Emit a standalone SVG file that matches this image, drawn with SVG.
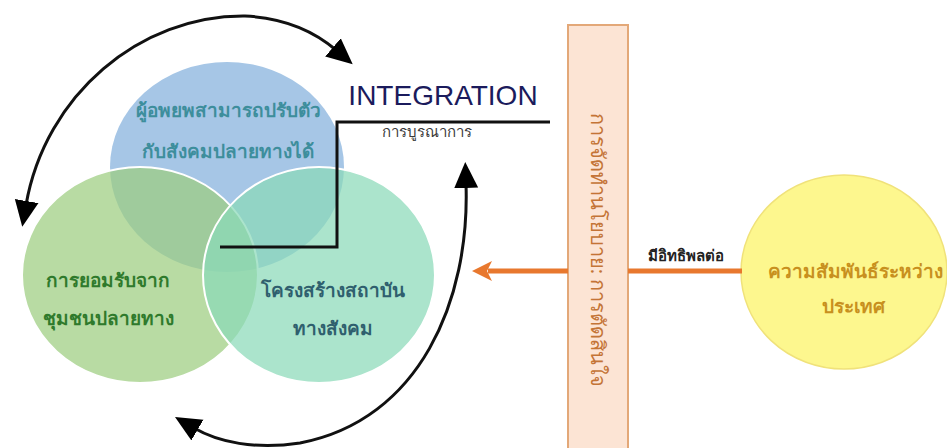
<svg xmlns="http://www.w3.org/2000/svg" width="947" height="448" viewBox="0 0 947 448">
<defs>
<style>
.th{font-family:"Noto Sans","DejaVu Sans","Liberation Sans",sans-serif;font-weight:bold;text-anchor:middle}
.arc{fill:none;stroke:#111;stroke-width:3}
.orange{stroke:#e8782e;stroke-width:5;fill:none}
</style>
<marker id="ah" markerUnits="userSpaceOnUse" markerWidth="26" markerHeight="26" viewBox="0 0 26 26" refX="4" refY="13" orient="auto-start-reverse">
<path d="M0,1 L26,13 L0,25 Z" fill="#000"/>
</marker>
<marker id="oh" markerUnits="userSpaceOnUse" markerWidth="20" markerHeight="22" viewBox="0 0 20 22" refX="4" refY="11" orient="auto">
<path d="M0,1 L20,11 L0,21 L5,11 Z" fill="#e8782e"/>
</marker>
</defs>
<rect width="947" height="448" fill="#fff"/>

<g id="circle-adapt">
<ellipse cx="227" cy="167" rx="117" ry="105" fill="#a6c6e6"/>
<text class="th" x="228" y="117" font-size="19" fill="#3d8e9c">ผู้อพยพสามารถปรับตัว</text>
<text class="th" x="228" y="158" font-size="19" fill="#3d8e9c">กับสังคมปลายทางได้</text>
</g>
<g id="circle-accept">
<ellipse cx="140" cy="275" rx="118" ry="108" fill="#9ccd80" fill-opacity="0.72" stroke="#fff" stroke-width="2"/>
</g>
<g id="circle-structure">
<ellipse cx="319" cy="275" rx="116" ry="108" fill="#8ad9b8" fill-opacity="0.72" stroke="#fff" stroke-width="2"/>
</g>
<g id="labels-lower">
<text class="th" x="108" y="287" font-size="19" fill="#2f7a2c">การยอมรับจาก</text>
<text class="th" x="108" y="325" font-size="19" fill="#2f7a2c">ชุมชนปลายทาง</text>
<text class="th" x="333" y="297" font-size="19" fill="#2f5f6e">โครงสร้างสถาบัน</text>
<text class="th" x="333" y="335" font-size="19" fill="#2f5f6e">ทางสังคม</text>
</g>

<g id="integration">
<text x="443" y="105" font-family="'Liberation Sans',Arial,sans-serif" font-size="28" fill="#1b1b5c" text-anchor="middle">INTEGRATION</text>
<text x="427" y="137" font-family="'Noto Sans','DejaVu Sans',sans-serif" font-size="15" fill="#3a3a3a" text-anchor="middle">การบูรณาการ</text>
</g>

<g id="policy">
<rect x="568" y="25" width="60" height="430" fill="#fce4d4" stroke="#e3a878" stroke-width="2"/>
<text transform="translate(591,250) rotate(90)" font-family="'Noto Sans','DejaVu Sans',sans-serif" font-size="20" fill="#c47436" text-anchor="middle">การจัดทำนโยบาย: การตัดสินใจ</text>
</g>

<g id="relations">
<ellipse cx="844" cy="272" rx="103" ry="97" fill="#fdf78e" stroke="#f0e27a" stroke-width="1.5"/>
<text class="th" x="855" y="278" font-size="19" fill="#c8901e">ความสัมพันธ์ระหว่าง</text>
<text class="th" x="853" y="313" font-size="19" fill="#c8901e">ประเทศ</text>
</g>

<g id="connectors">
<path d="M220,247 H337 V122 H550" fill="none" stroke="#111" stroke-width="3"/>
<path class="arc" d="M26,205 C45,95 140,15 245,16 C285,18 315,32 336,50" marker-start="url(#ah)" marker-end="url(#ah)"/>
<path class="arc" d="M466,184 C470,300 420,420 300,443 C255,450 218,442 194,428" marker-start="url(#ah)" marker-end="url(#ah)"/>
<path class="orange" d="M568,271 H488" marker-end="url(#oh)"/>
<path class="orange" d="M628,271 H742"/>
<text x="686" y="261" font-family="'Noto Sans','DejaVu Sans',sans-serif" font-size="15" font-weight="bold" fill="#222" text-anchor="middle">มีอิทธิพลต่อ</text>
</g>
</svg>
